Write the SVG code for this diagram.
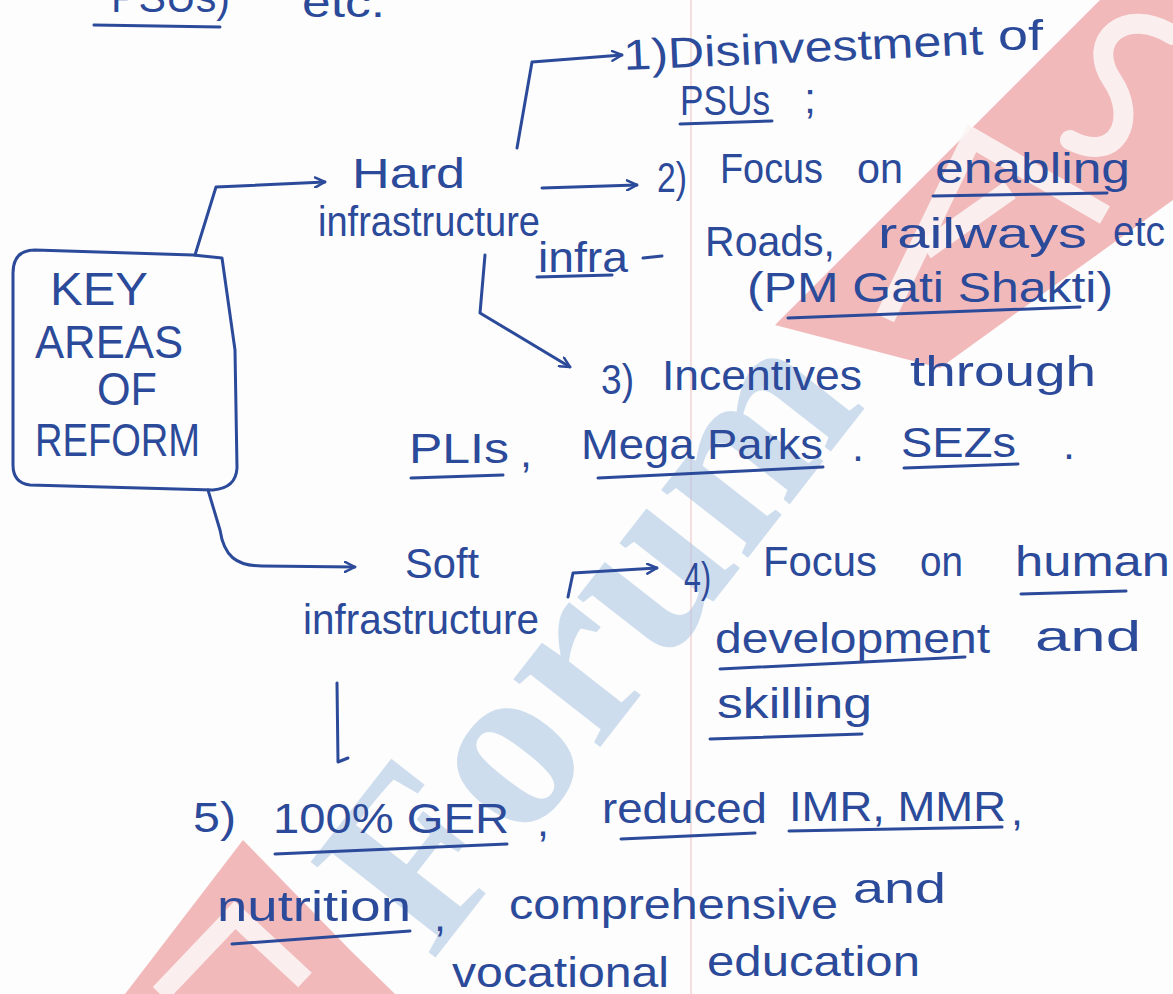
<svg xmlns="http://www.w3.org/2000/svg" width="1173" height="994" viewBox="0 0 1173 994">
  <defs>
    <style>
      .ink { font-family: "Liberation Sans", "DejaVu Sans", sans-serif; fill: #2c4a9a; font-size: 43px; }
      .box { font-size: 46px; }
      .ln { fill: none; stroke: #2c4a9a; stroke-width: 3; stroke-linecap: round; stroke-linejoin: round; }
      .ul { fill: none; stroke: #2c4a9a; stroke-width: 3; stroke-linecap: round; }
      .wm-blue { font-family: "Liberation Serif", serif; font-weight: bold; fill: #a9c4e2; opacity: 0.55; }
      .wm-red { fill: #ec8f91; opacity: 0.62; }
      .wm-cut { fill: none; stroke: #fbf4f4; stroke-width: 20; stroke-linejoin: miter; opacity: 0.9; }
    </style>
    <marker id="ah" viewBox="0 0 12 12" refX="11" refY="6" markerWidth="12" markerHeight="12" markerUnits="userSpaceOnUse" orient="auto">
      <path d="M1,1 L11,6 L1,11" fill="none" stroke="#2c4a9a" stroke-width="2.5" stroke-linecap="round" stroke-linejoin="round"/>
    </marker>
  </defs>

  <!-- paper and margin rule -->
  <rect width="1173" height="994" fill="#fdfdfd"/>
  <line x1="691" y1="0" x2="691" y2="994" stroke="#f2caca" stroke-width="1.2"/>

  <!-- watermark logo -->
  <g id="watermark">
    <polygon points="775,325 1100,0 1173,0 1173,200 940,368" class="wm-red"/>
    <path class="wm-cut" d="M885,318 L972,138 L1105,215"/>
    <path class="wm-cut" d="M925,250 L1010,190"/>
    <path class="wm-cut" stroke-linecap="round" d="M1173,35 C1125,5 1085,40 1112,80 C1138,118 1118,165 1070,140"/>
    <polygon points="243,840 350,950 395,994 125,994" class="wm-red"/>
    <path class="wm-cut" d="M160,994 L235,915 L305,980"/>
    <text x="432" y="962" transform="rotate(-52 432 962)" font-size="240" class="wm-blue">Forum</text>
  </g>

  <!-- connectors -->
  <g id="connectors">
    <path class="ln" d="M195,255 L216,187 L325,182" marker-end="url(#ah)"/>
    <path class="ln" d="M517,148 L532,62 L622,55" marker-end="url(#ah)"/>
    <path class="ln" d="M542,188 L637,185" marker-end="url(#ah)"/>
    <path class="ln" d="M485,255 L480,313 L570,367" marker-end="url(#ah)"/>
    <path class="ln" d="M208,490 L220,530 C224,556 236,566 262,566 L355,567" marker-end="url(#ah)"/>
    <path class="ln" d="M568,597 L573,573 L657,568" marker-end="url(#ah)"/>
    <path class="ln" d="M337,683 L338,762 L348,758"/>
  </g>

  <!-- tail of the note above -->
  <g id="prev-note">
    <text class="ink" x="111" y="12" textLength="119" lengthAdjust="spacingAndGlyphs">PSUs)</text>
    <text class="ink" x="302" y="17" textLength="83" lengthAdjust="spacingAndGlyphs">etc.</text>
    <path class="ul" d="M94,25 L220,27"/>
  </g>

  <!-- central box -->
  <g id="key-areas">
    <path class="ln" d="M35,250 L193,255 L222,258 L235,350 L237,468 Q236,488 213,490 L30,485 Q13,483 13,465 L13,273 Q13,250 35,250 Z"/>
    <text class="ink box" x="50" y="305" textLength="98" lengthAdjust="spacingAndGlyphs">KEY</text>
    <text class="ink box" x="35" y="358" textLength="148" lengthAdjust="spacingAndGlyphs">AREAS</text>
    <text class="ink box" x="97" y="405" textLength="60" lengthAdjust="spacingAndGlyphs">OF</text>
    <text class="ink box" x="35" y="456" textLength="165" lengthAdjust="spacingAndGlyphs">REFORM</text>
  </g>

  <g id="hard-infra">
    <text class="ink" x="352" y="188" font-size="48" textLength="113" lengthAdjust="spacingAndGlyphs">Hard</text>
    <text class="ink" x="318" y="236" textLength="222" lengthAdjust="spacingAndGlyphs">infrastructure</text>
  </g>

  <g id="item-1">
    <text class="ink" x="624" y="70" transform="rotate(-2.5 624 70)" textLength="360" lengthAdjust="spacingAndGlyphs">1)Disinvestment</text>
    <text class="ink" x="998" y="50" textLength="45" lengthAdjust="spacingAndGlyphs">of</text>
    <text class="ink" x="680" y="115" font-size="38" textLength="90" lengthAdjust="spacingAndGlyphs">PSUs</text>
    <text class="ink" x="804" y="113" font-size="38">;</text>
    <path class="ul" d="M680,124 L772,121"/>
  </g>

  <g id="item-2">
    <text class="ink" x="657" y="192" textLength="30" lengthAdjust="spacingAndGlyphs">2)</text>
    <text class="ink" x="720" y="183" textLength="103" lengthAdjust="spacingAndGlyphs">Focus</text>
    <text class="ink" x="857" y="183" textLength="46" lengthAdjust="spacingAndGlyphs">on</text>
    <text class="ink" x="935" y="183" textLength="195" lengthAdjust="spacingAndGlyphs">enabling</text>
    <path class="ul" d="M933,196 L1107,193"/>
    <text class="ink" x="538" y="272" textLength="90" lengthAdjust="spacingAndGlyphs">infra</text>
    <path class="ul" d="M537,277 L612,275"/>
    <path class="ul" d="M643,258 L662,256"/>
    <text class="ink" x="705" y="256" textLength="130" lengthAdjust="spacingAndGlyphs">Roads,</text>
    <text class="ink" x="878" y="248" textLength="209" lengthAdjust="spacingAndGlyphs">railways</text>
    <text class="ink" x="1113" y="246" textLength="52" lengthAdjust="spacingAndGlyphs">etc</text>
    <text class="ink" x="747" y="302" textLength="366" lengthAdjust="spacingAndGlyphs">(PM Gati Shakti)</text>
    <path class="ul" d="M788,318 L1080,307"/>
  </g>

  <g id="item-3">
    <text class="ink" x="601" y="394" textLength="33" lengthAdjust="spacingAndGlyphs">3)</text>
    <text class="ink" x="662" y="390" textLength="200" lengthAdjust="spacingAndGlyphs">Incentives</text>
    <text class="ink" x="910" y="386" textLength="186" lengthAdjust="spacingAndGlyphs">through</text>
    <text class="ink" x="409" y="463" textLength="100" lengthAdjust="spacingAndGlyphs">PLIs</text>
    <text class="ink" x="520" y="467">,</text>
    <text class="ink" x="581" y="459" textLength="242" lengthAdjust="spacingAndGlyphs">Mega Parks</text>
    <text class="ink" x="852" y="461">.</text>
    <text class="ink" x="901" y="457" textLength="115" lengthAdjust="spacingAndGlyphs">SEZs</text>
    <text class="ink" x="1063" y="459">.</text>
    <path class="ul" d="M411,478 L503,475"/>
    <path class="ul" d="M598,478 L823,467"/>
    <path class="ul" d="M904,468 L1018,464"/>
  </g>

  <g id="soft-infra">
    <text class="ink" x="405" y="578" textLength="74" lengthAdjust="spacingAndGlyphs">Soft</text>
    <text class="ink" x="303" y="634" textLength="236" lengthAdjust="spacingAndGlyphs">infrastructure</text>
  </g>

  <g id="item-4">
    <text class="ink" x="684" y="592" font-size="46" textLength="27" lengthAdjust="spacingAndGlyphs">4)</text>
    <text class="ink" x="763" y="576" textLength="114" lengthAdjust="spacingAndGlyphs">Focus</text>
    <text class="ink" x="920" y="576" textLength="43" lengthAdjust="spacingAndGlyphs">on</text>
    <text class="ink" x="1015" y="576" textLength="155" lengthAdjust="spacingAndGlyphs">human</text>
    <path class="ul" d="M1021,594 L1126,591"/>
    <text class="ink" x="715" y="653" textLength="275" lengthAdjust="spacingAndGlyphs">development</text>
    <text class="ink" x="1035" y="651" textLength="106" lengthAdjust="spacingAndGlyphs">and</text>
    <path class="ul" d="M720,669 L965,657"/>
    <text class="ink" x="717" y="718" textLength="155" lengthAdjust="spacingAndGlyphs">skilling</text>
    <path class="ul" d="M710,739 L862,734"/>
  </g>

  <g id="item-5">
    <text class="ink" x="193" y="832" textLength="43" lengthAdjust="spacingAndGlyphs">5)</text>
    <text class="ink" x="273" y="833" textLength="236" lengthAdjust="spacingAndGlyphs">100% GER</text>
    <text class="ink" x="537" y="836">,</text>
    <text class="ink" x="602" y="823" textLength="165" lengthAdjust="spacingAndGlyphs">reduced</text>
    <text class="ink" x="789" y="821" textLength="217" lengthAdjust="spacingAndGlyphs">IMR, MMR</text>
    <text class="ink" x="1011" y="825">,</text>
    <path class="ul" d="M275,854 L507,844"/>
    <path class="ul" d="M621,839 L755,833"/>
    <path class="ul" d="M789,831 L1002,827"/>
    <text class="ink" x="217" y="921" textLength="194" lengthAdjust="spacingAndGlyphs">nutrition</text>
    <text class="ink" x="434" y="931">,</text>
    <text class="ink" x="509" y="919" textLength="329" lengthAdjust="spacingAndGlyphs">comprehensive</text>
    <text class="ink" x="853" y="903" textLength="93" lengthAdjust="spacingAndGlyphs">and</text>
    <path class="ul" d="M232,944 L410,931"/>
    <text class="ink" x="452" y="987" textLength="217" lengthAdjust="spacingAndGlyphs">vocational</text>
    <text class="ink" x="707" y="976" textLength="213" lengthAdjust="spacingAndGlyphs">education</text>
  </g>
</svg>
